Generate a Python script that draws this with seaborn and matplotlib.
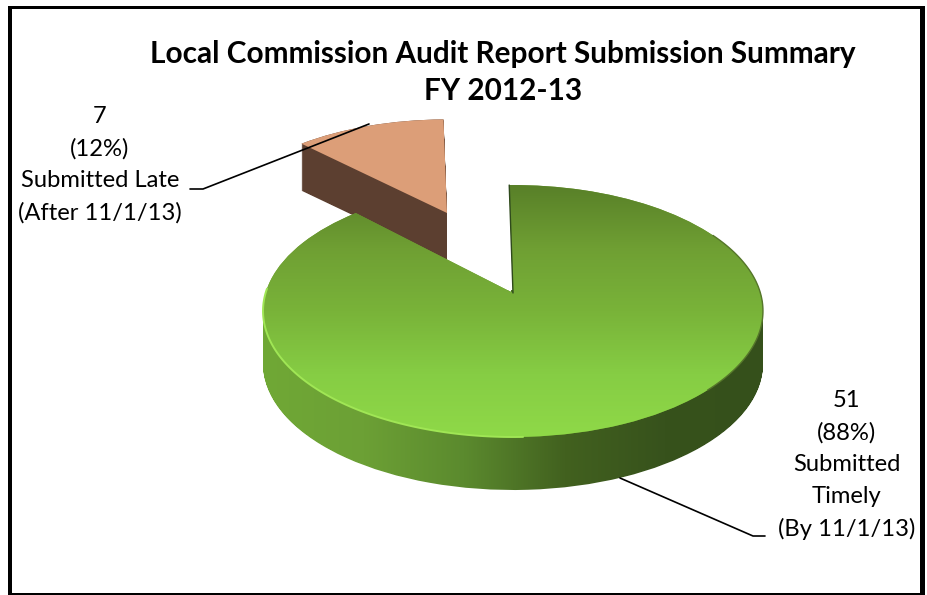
import numpy as np
import matplotlib
matplotlib.use('Agg')
import matplotlib.pyplot as plt
import seaborn as sns
from matplotlib.path import Path
from matplotlib.patches import PathPatch
from matplotlib.transforms import Transform

# chart values
categories = ['Submitted\nTimely\n(By 11/1/13)', 'Submitted Late\n(After 11/1/13)']
counts = [51, 7]
title_lines = ['Local Commission Audit Report Submission Summary', 'FY 2012-13']

top_colors = ['#587f28', '#6f9f33', '#79b339', '#86cd44', '#8fd948']
side_colors = ['#70a836', '#6ca035', '#5b8a2e', '#42611f', '#37521c', '#35501b']
late_top = '#dc9e78'
late_side = '#5c3f30'

W, H = 928, 595
TILT = 0.143


class Tilted(Transform):
    # unit circle laid on its back, seen in perspective, result in image pixels
    input_dims = 2
    output_dims = 2

    def __init__(self, cx, cy, rx, ry, drop=0):
        super().__init__()
        self.cx, self.cy, self.rx, self.ry, self.drop = cx, cy, rx, ry, drop

    def transform_non_affine(self, values):
        values = np.asarray(values, dtype=float)
        w = 1 + TILT * values[:, 1]
        return np.column_stack([self.cx + self.rx * values[:, 0] / w,
                                self.cy + self.drop - self.ry * values[:, 1] / w])


def side_path(wedge, depth, **kw):
    # all the copies of a slice going down by its thickness
    unit = wedge.get_patch_transform().transform_path(wedge.get_path())
    return Path.make_compound_path(*[Tilted(drop=d, **kw).transform_path(unit)
                                     for d in np.arange(0, depth + 1, 1.0)])


sns.set_theme(style='white')
plt.rcParams['font.family'] = ['Lato', 'DejaVu Sans']

fig = plt.figure(figsize=(W / 100, H / 100), dpi=100)
ax = fig.add_axes([0, 0, 1, 1])

wedges, _ = ax.pie(counts, startangle=91, counterclock=False, colors=[top_colors[1], late_top])
main, late = wedges
main_geo = dict(cx=513, cy=293, rx=247.4, ry=123.4)
late_geo = dict(cx=447, cy=213, rx=229, ry=107)
main.set_transform(Tilted(**main_geo) + ax.transData)
late.set_transform(Tilted(**late_geo) + ax.transData)
main.set_zorder(4)
late.set_zorder(2)
late.set_edgecolor('none')
main.set_edgecolor('none')

# late slice wall
ax.add_patch(PathPatch(side_path(late, 47, **late_geo), fc=late_side, ec='none', zorder=1))

# timely slice wall, shaded left to right
side_cmap = sns.blend_palette(side_colors, as_cmap=True)
side_img = ax.imshow(np.linspace(0, 1, 256)[None, :], cmap=side_cmap, aspect='auto',
                     extent=[263, 766, 500, 290], zorder=3)
side_img.set_clip_path(side_path(main, 53, **main_geo), ax.transData)

# top face, shaded top to bottom
top_cmap = sns.blend_palette(top_colors, as_cmap=True)
top_img = ax.imshow(np.linspace(0, 1, 256)[:, None], cmap=top_cmap, aspect='auto',
                    extent=[260, 770, 438, 184], zorder=5)
top_img.set_clip_path(main)

# rims of the top face
tilt = Tilted(**main_geo)
theta = np.radians(np.linspace(178, 272, 120))
rim = tilt.transform(np.column_stack([np.cos(theta), np.sin(theta)]))
ax.plot(rim[:, 0], rim[:, 1], color='#a0e655', lw=1.4, zorder=6)
theta = np.radians(np.linspace(-45, 30, 80))
rim = tilt.transform(np.column_stack([np.cos(theta), np.sin(theta)]))
ax.plot(rim[:, 0], rim[:, 1], color='#55762a', lw=1.0, zorder=6)

# dark line on the cut edge
a = np.radians(91)
cut = tilt.transform(np.array([[np.cos(a), np.sin(a)], [0, 0]]))
ax.plot(cut[:, 0], cut[:, 1], color='#2f4a1c', lw=1.0, zorder=6)

# leader lines
ax.plot([190, 203, 369], [189, 189, 124], color='black', lw=1.2, zorder=7)
ax.plot([620, 753, 765], [478, 536, 536], color='black', lw=1.2, zorder=7)

pct = [round(100 * c / sum(counts)) for c in counts]
ax.text(847, 465, f'{counts[0]}\n({pct[0]}%)\n{categories[0]}', ha='center', va='center',
        fontsize=17.1, linespacing=1.62, color='black', zorder=8)
ax.text(100, 165, f'{counts[1]}\n({pct[1]}%)\n{categories[1]}', ha='center', va='center',
        fontsize=17.1, linespacing=1.62, color='black', zorder=8)

ax.text(503, 54, title_lines[0], ha='center', va='center', fontsize=21.4, fontweight='bold', color='black')
ax.text(503, 91, title_lines[1], ha='center', va='center', fontsize=21.4, fontweight='bold', color='black')

ax.set_xlim(0, W)
ax.set_ylim(H, 0)
ax.set_aspect('auto')
ax.axis('off')

# thick picture frame
frame = dict(color='black', lw=0, zorder=9)
ax.fill_between([8, 925], 6, 9, **frame)
ax.fill_between([8, 12], 6, 595, **frame)
ax.fill_between([920, 925], 6, 595, **frame)
ax.fill_between([8, 925], 593, 595, **frame)

fig.savefig('out.png', dpi=100, facecolor='white')
